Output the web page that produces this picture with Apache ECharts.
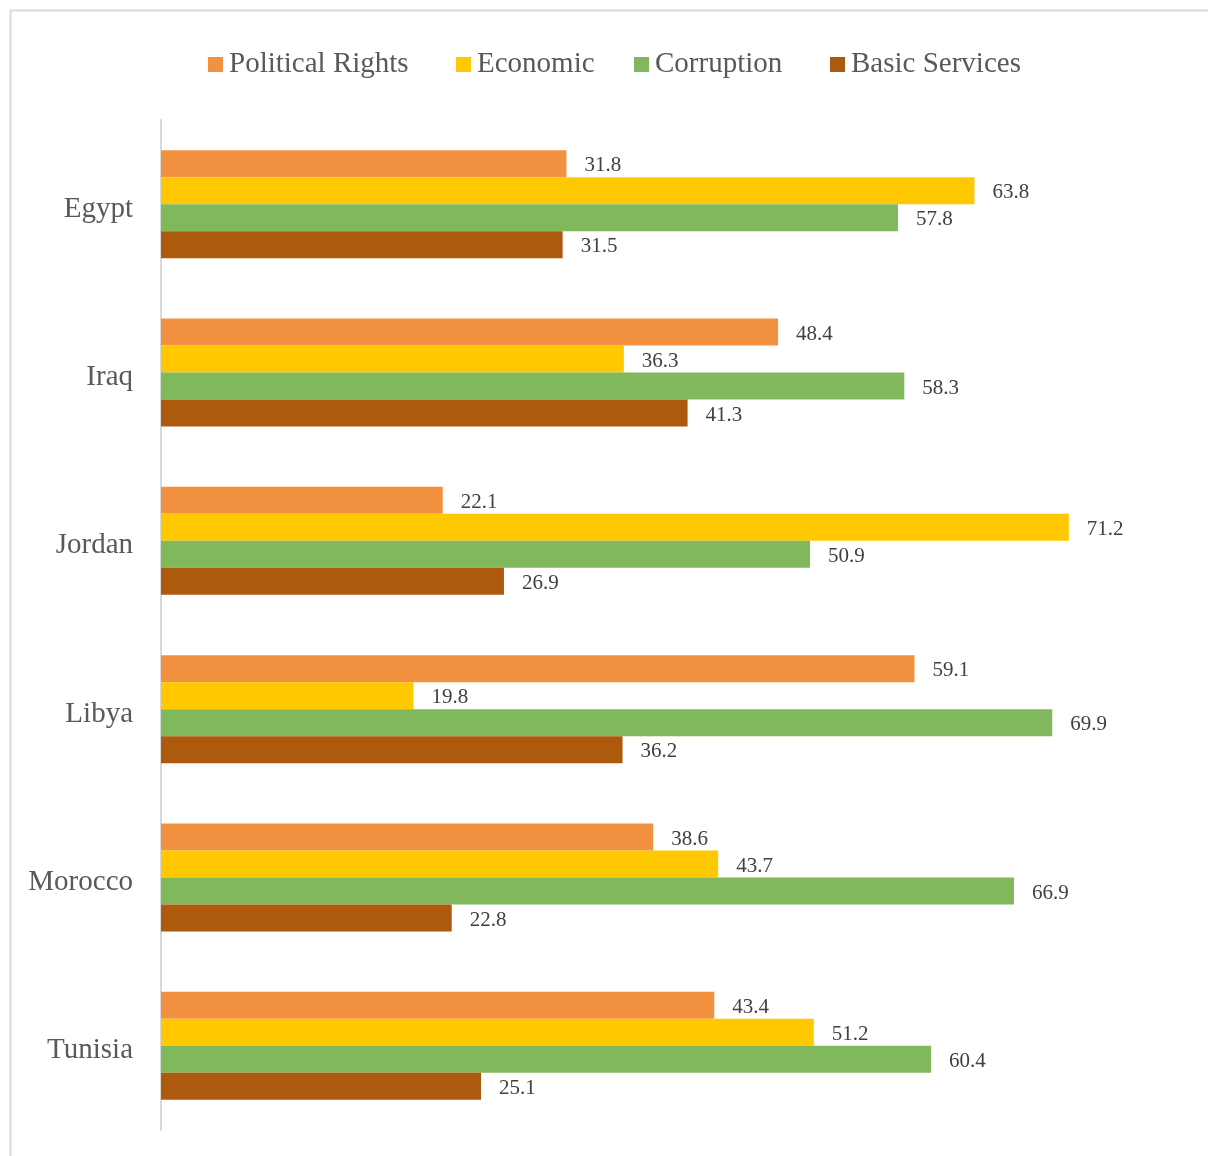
<!DOCTYPE html>
<html>
<head>
<meta charset="utf-8">
<script src="https://cdn.jsdelivr.net/npm/echarts@6/dist/echarts.min.js"></script>
<style>html,body{margin:0;padding:0;background:#fff}#c{width:1208px;height:1156px}</style>
</head>
<body>
<div id="c"></div>
<script>
const categories = ['Egypt', 'Iraq', 'Jordan', 'Libya', 'Morocco', 'Tunisia'];
const seriesNames = ['Political Rights', 'Economic', 'Corruption', 'Basic Services'];
const politicalRights = [31.8, 48.4, 22.1, 59.1, 38.6, 43.4];
const economic = [63.8, 36.3, 71.2, 19.8, 43.7, 51.2];
const corruption = [57.8, 58.3, 50.9, 69.9, 66.9, 60.4];
const basicServices = [31.5, 41.3, 26.9, 36.2, 22.8, 25.1];
const colors = ['#F29240', '#FFC800', '#82B85C', '#AE5A0E'];
const legendLefts = [208, 456, 634, 830];

const dataSets = [politicalRights, economic, corruption, basicServices];
const font = '"Liberation Serif", "Times New Roman", serif';
const chart = echarts.init(document.getElementById('c'));
chart.setOption({
  animation: false,
  color: colors,
  graphic: [{
    type: 'rect', shape: {x: 10.5, y: 10.5, width: 1240, height: 1200},
    style: {fill: 'none', stroke: '#d9d9d9', lineWidth: 2}, silent: true, z: -1
  }],
  legend: seriesNames.map((n, i) => ({
    top: 50, left: legendLefts[i], padding: 0,
    itemWidth: 15, itemHeight: 15,
    icon: 'rect',
    textStyle: {fontFamily: font, fontSize: 29, color: '#595959', padding: [2, 0, 0, 1]},
    data: [n]
  })),
  grid: {left: 161, right: 27, top: 120, bottom: 26, containLabel: false},
  xAxis: {type: 'value', min: 0, max: 80, show: false},
  yAxis: {
    type: 'category', data: categories, inverse: true,
    axisLine: {show: true, lineStyle: {color: '#d9d9d9', width: 2}},
    axisTick: {show: false},
    axisLabel: {fontFamily: font, fontSize: 29, color: '#595959', margin: 28, verticalAlign: 'top', lineHeight: 10}
  },
  series: dataSets.map((d, i) => ({
    name: seriesNames[i], type: 'bar', data: d,
    barWidth: 27, barGap: '0%', barCategoryGap: '35.7%',
    label: {show: true, position: 'right', distance: 18, offset: [0, 2], fontFamily: font, fontSize: 21, color: '#404040'}
  }))
});
</script>
</body>
</html>
